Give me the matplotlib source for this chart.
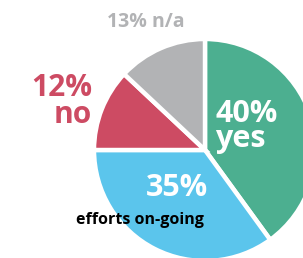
import matplotlib
matplotlib.use("Agg")
from matplotlib import pyplot as plt

labels = ["yes", "efforts on-going", "no", "n/a"]
shares = [40, 35, 12, 13]
colors = ["#4caf90", "#5bc5ec", "#cd4b63", "#b2b3b5"]

W, H = 303, 258
fig = plt.figure(figsize=(W / 100, H / 100), dpi=100)
ax = fig.add_axes([0, 0, 1, 1])

ax.pie(shares, colors=colors, startangle=90, counterclock=False,
       center=(205, H - 150), radius=111,
       wedgeprops=dict(edgecolor="white", linewidth=3.2))
ax.set_xlim(0, W)
ax.set_ylim(0, H)
ax.set_aspect("equal")
ax.axis("off")

font = "Open Sans"
def px(y):
    return H - y

ax.text(215, px(147), f"{shares[0]}%\n{labels[0]}", color="white", fontsize=22,
        fontweight="bold", family=font, ha="left", va="baseline",
        linespacing=0.78)
ax.text(208, px(196), f"{shares[1]}%", color="white", fontsize=22,
        fontweight="bold", family=font, ha="right", va="baseline")
ax.text(76, px(224), labels[1], color="black", fontsize=11.5,
        fontweight="bold", family=font, ha="left", va="baseline")
ax.text(92, px(123), f"{shares[2]}%\n{labels[2]}", color=colors[2], fontsize=21.5,
        fontweight="bold", family=font, ha="right", va="baseline",
        multialignment="right", linespacing=0.86)
ax.text(107, px(27), f"{shares[3]}% {labels[3]}", color=colors[3], fontsize=14,
        fontweight="bold", family=font, ha="left", va="baseline")

fig.savefig("out.png", dpi=100)
